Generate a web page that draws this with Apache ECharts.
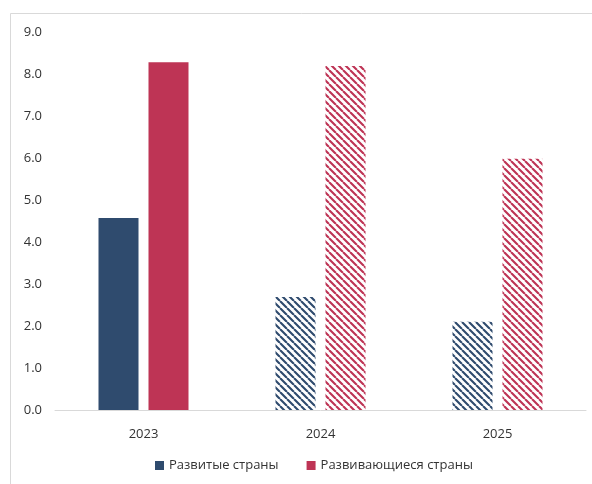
<!DOCTYPE html>
<html><head><meta charset="utf-8">
<script src="https://cdn.jsdelivr.net/npm/echarts@6/dist/echarts.min.js"></script>
<style>html,body{margin:0;padding:0;background:#fff}#c{width:592px;height:484px}</style>
</head><body><div id="c"></div>
<script>
const categories = ['2023', '2024', '2025'];
const seriesNames = ['Развитые страны', 'Развивающиеся страны'];
const developed = [4.57, 2.69, 2.10];
const developing = [8.28, 8.19, 5.98];
const yTicks = [0, 1, 2, 3, 4, 5, 6, 7, 8, 9];

const BLUE = '#2F4B6E', RED = '#BE3455';
function hatch(color) {
  const s = 7;
  const c = document.createElement('canvas');
  c.width = s; c.height = s;
  const g = c.getContext('2d');
  g.fillStyle = '#fff'; g.fillRect(0, 0, s, s);
  g.strokeStyle = color; g.lineWidth = 2.1;
  g.beginPath();
  for (let k = -1; k <= 1; k++) {
    g.moveTo(k * s, 0); g.lineTo(k * s + s, s);
  }
  g.stroke();
  return { image: c, repeat: 'repeat' };
}
function itemsFor(vals, color) {
  return vals.map((v, i) => ({
    value: v,
    itemStyle: { color: i === 0 ? color : hatch(color) }
  }));
}
const chart = echarts.init(document.getElementById('c'), null, { renderer: 'canvas' });
chart.setOption({
  animation: false,
  backgroundColor: '#fff',
  textStyle: { fontFamily: 'Open Sans' },
  graphic: [{
    type: 'polyline', silent: true,
    shape: { points: [[10.5, 484], [10.5, 13.5], [592, 13.5]] },
    style: { stroke: '#d9d9d9', lineWidth: 1, fill: null }
  }],
  grid: { left: 55, right: 6, top: 32, bottom: 74, containLabel: false },
  legend: {
    bottom: 7, left: 150, itemWidth: 9, itemHeight: 9, itemGap: 28,
    icon: 'rect',
    textStyle: { fontSize: 13, color: '#333', fontFamily: 'Open Sans' },
    data: [
      { name: seriesNames[0], itemStyle: { color: BLUE } },
      { name: seriesNames[1], itemStyle: { color: RED } }
    ]
  },
  xAxis: {
    type: 'category', data: categories,
    axisLine: { lineStyle: { color: '#d9d9d9', width: 1 } },
    axisTick: { show: false },
    axisLabel: { color: '#333', fontSize: 13, margin: 18 }
  },
  yAxis: {
    type: 'value', min: 0, max: 9, interval: 1,
    splitLine: { show: false },
    axisLine: { show: false }, axisTick: { show: false },
    axisLabel: { color: '#333', fontSize: 13, margin: 13, formatter: v => v.toFixed(1) }
  },
  series: [
    { name: seriesNames[0], type: 'bar', barWidth: 40, barGap: '25%', data: itemsFor(developed, BLUE), itemStyle: { color: BLUE } },
    { name: seriesNames[1], type: 'bar', barWidth: 40, barGap: '25%', data: itemsFor(developing, RED), itemStyle: { color: RED } }
  ]
});
</script></body></html>
